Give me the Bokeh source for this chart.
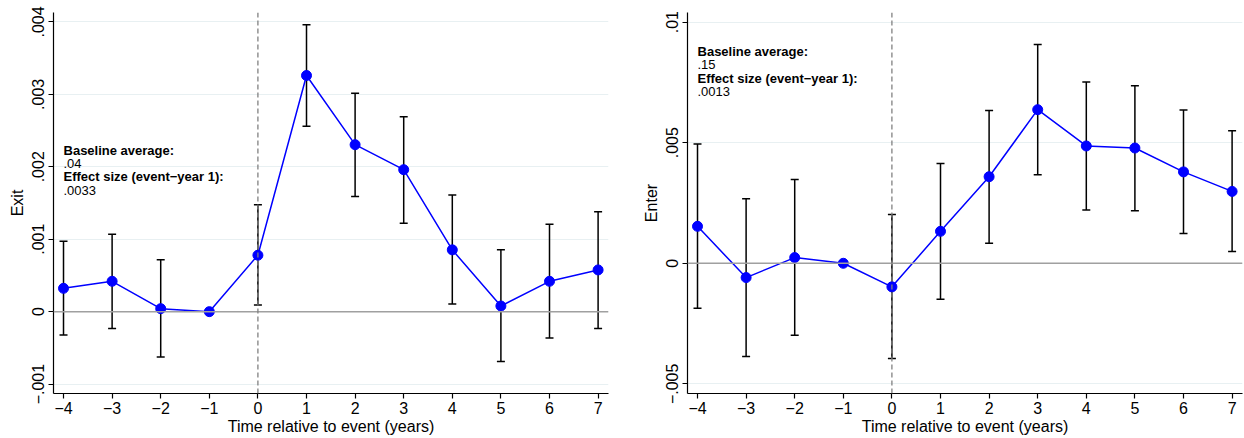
from bokeh.plotting import figure
from bokeh.layouts import row
from bokeh.models import (ColumnDataSource, Whisker, TeeHead, Span, FixedTicker, Range1d)
from bokeh.core.properties import value
from bokeh.embed import file_html
from bokeh.resources import INLINE

years = [-4, -3, -2, -1, 0, 1, 2, 3, 4, 5, 6, 7]
x_tick_labels = ["\u22124", "\u22123", "\u22122", "\u22121", "0", "1", "2", "3", "4", "5", "6", "7"]

exit_coef = [0.000322, 0.000419, 0.0000415, 0.0, 0.000779, 0.00326, 0.002305, 0.00196, 0.000853, 0.000078, 0.000419, 0.000576]
exit_hi = [0.000972, 0.00107, 0.000715, None, 0.001476, 0.00396, 0.003015, 0.00269, 0.00161, 0.000853, 0.001207, 0.00138]
exit_lo = [-0.000322, -0.000231, -0.000627, None, 0.0000922, 0.00256, 0.00159, 0.00122, 0.000106, -0.000687, -0.000364, -0.000231]
exit_ticks = [-0.001, 0.0, 0.001, 0.002, 0.003, 0.004]
exit_tick_labels = ["\u2212.001", "0", ".001", ".002", ".003", ".004"]

enter_coef = [0.001533, -0.000593, 0.000236, 0.0, -0.000978, 0.001326, 0.00359, 0.00637, 0.004865, 0.00478, 0.00379, 0.00298]
enter_hi = [0.00495, 0.00268, 0.00347, None, 0.00202, 0.00414, 0.00634, 0.00907, 0.00752, 0.00736, 0.00636, 0.0055]
enter_lo = [-0.001865, -0.00387, -0.00298, None, -0.00395, -0.00149, 0.00083, 0.00367, 0.00221, 0.00218, 0.00124, 0.000485]
enter_ticks = [-0.005, 0.0, 0.005, 0.01]
enter_tick_labels = ["\u2212.005", "0", ".005", ".01"]

exit_notes = ["Baseline average:", ".04", "Effect size (event\u2212year 1):", ".0033"]
enter_notes = ["Baseline average:", ".15", "Effect size (event\u2212year 1):", ".0013"]
notes_bold = [True, False, True, False]

FONT = "Liberation Sans"


def panel(coef, lo, hi, yticks, ylabels, ylabel, yrange, notes, note_y, width, border_left):
    p = figure(width=width, height=438, output_backend="svg", toolbar_location=None,
               x_range=Range1d(-4.206, 7.214), y_range=Range1d(*yrange),
               min_border_left=border_left, min_border_right=width - border_left - 555,
               min_border_top=12, min_border_bottom=45)
    p.outline_line_color = None
    p.background_fill_color = "white"
    p.border_fill_color = "white"

    # grid
    p.xgrid.grid_line_color = None
    p.ygrid.grid_line_color = "#e8f0f2"
    p.ygrid.grid_line_width = 1

    # axes
    p.xaxis.ticker = FixedTicker(ticks=years)
    p.xaxis.major_label_overrides = {y: l for y, l in zip(years, x_tick_labels)}
    p.yaxis.ticker = FixedTicker(ticks=yticks)
    p.yaxis.major_label_overrides = {t: l for t, l in zip(yticks, ylabels)}
    p.yaxis.major_label_orientation = "vertical"
    for ax in (p.xaxis[0], p.yaxis[0]):
        ax.axis_line_color = "black"
        ax.axis_line_width = 1.2
        ax.major_tick_line_color = "black"
        ax.major_tick_line_width = 1.2
        ax.major_tick_out = 5
        ax.major_tick_in = 0
        ax.minor_tick_line_color = None
        ax.major_label_text_font = FONT
        ax.major_label_text_font_size = "16px"
        ax.major_label_text_color = "black"
        ax.axis_label_text_font = FONT
        ax.axis_label_text_font_size = "16px"
        ax.axis_label_text_font_style = "normal"
        ax.axis_label_text_color = "black"
    p.xaxis.axis_label = "Time relative to event (years)"
    p.xaxis.major_label_standoff = 3
    p.xaxis.axis_label_standoff = 1
    p.yaxis.axis_label = ylabel
    p.yaxis.major_label_standoff = 4
    p.yaxis.axis_label_standoff = 4

    # reference lines
    p.add_layout(Span(location=0, dimension="width", line_color="#a0a0a0", line_width=1.5))
    p.add_layout(Span(location=0, dimension="height", line_color="#808080", line_width=1.3,
                      line_dash="5 3"))

    # error bars
    xs = [x for x, l in zip(years, lo) if l is not None]
    ls = [l for l in lo if l is not None]
    hs = [h for h in hi if h is not None]
    esrc = ColumnDataSource(dict(x=xs, lower=ls, upper=hs))
    w = Whisker(source=esrc, base="x", lower="lower", upper="upper",
                line_color="black", line_width=1.5,
                upper_head=TeeHead(size=8, line_color="black", line_width=1.5),
                lower_head=TeeHead(size=8, line_color="black", line_width=1.5))
    p.add_layout(w)

    src = ColumnDataSource(dict(x=years, y=coef))
    p.line("x", "y", source=src, line_color="#0000ff", line_width=1.5)
    p.scatter("x", "y", source=src, size=10, fill_color="#0000ff", line_color="#0000ff")

    # notes
    for i, (t, b) in enumerate(zip(notes, notes_bold)):
        p.text(x=[-4.0], y=[note_y], text=[t], x_offset=0, y_offset=13.3 * i,
               text_font=value(FONT), text_font_size="13px",
               text_font_style="bold" if b else "normal",
               text_color="black", text_align="left", text_baseline="middle")
    return p


p1 = panel(exit_coef, exit_lo, exit_hi, exit_ticks, exit_tick_labels, "Exit",
           (-0.00113, 0.00413), exit_notes, 0.002227, 620, 53)
p2 = panel(enter_coef, enter_lo, enter_hi, enter_ticks, enter_tick_labels, "Enter",
           (-0.0054, 0.0104), enter_notes, 0.008786, 624, 67)

layout = row(p1, p2)
open("out.html", "w").write(file_html(layout, INLINE))
